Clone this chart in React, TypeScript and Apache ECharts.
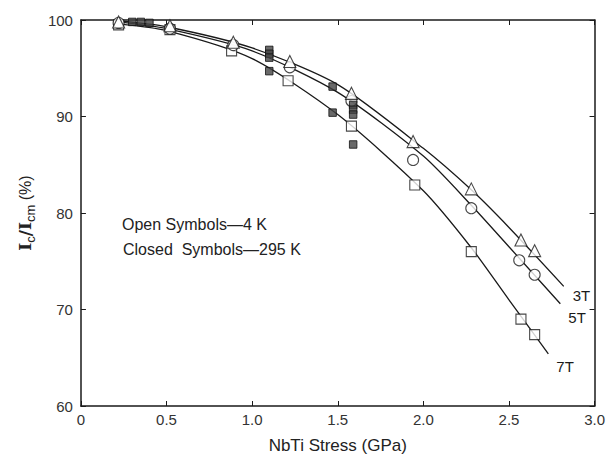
import React, { useEffect, useRef } from "react";
import * as echarts from "echarts";

// Open symbols (4 K)
const stress3T = [0.22, 0.52, 0.89, 1.22, 1.58, 1.94, 2.28, 2.57, 2.65];
const ic3T = [99.8, 99.4, 97.7, 95.7, 92.4, 87.4, 82.5, 77.2, 76.1];
const stress5T = [0.22, 0.52, 0.89, 1.22, 1.58, 1.94, 2.28, 2.56, 2.65];
const ic5T = [99.7, 99.1, 97.4, 95.1, 91.6, 85.5, 80.5, 75.1, 73.6];
const stress7T = [0.22, 0.52, 0.88, 1.21, 1.58, 1.95, 2.28, 2.57, 2.65];
const ic7T = [99.5, 99.0, 96.8, 93.7, 89.0, 82.9, 76.0, 69.0, 67.4];

// Closed symbols (295 K)
const closedStress = [0.3, 0.35, 0.4, 1.1, 1.1, 1.1, 1.1, 1.47, 1.47, 1.59, 1.59, 1.59, 1.59];
const closedIc = [99.8, 99.8, 99.7, 96.9, 96.5, 96.1, 94.7, 93.1, 90.4, 91.2, 90.7, 90.2, 87.1];

// Fitted curves
const fitStress3T = [0.22, 0.5, 1.0, 1.5, 2.0, 2.28, 2.5, 2.82];
const fitIc3T = [99.9, 99.3, 97.1, 93.3, 86.7, 82.4, 78.5, 72.4];
const fitStress5T = [0.22, 0.5, 1.0, 1.5, 2.0, 2.28, 2.5, 2.8];
const fitIc5T = [99.8, 99.1, 96.8, 92.5, 85.9, 80.8, 76.5, 70.6];
const fitStress7T = [0.22, 0.5, 1.0, 1.5, 2.0, 2.28, 2.5, 2.73];
const fitIc7T = [99.6, 98.9, 96.0, 90.2, 82.3, 76.4, 71.0, 65.4];

const curveNames = ["3T", "5T", "7T"];
const xTickLabels = ["0", "0.5", "1.0", "1.5", "2.0", "2.5", "3.0"];
const yTickLabels = ["60", "70", "80", "90", "100"];
const noteOpen = "Open Symbols\u20144 K";
const noteClosed = "Closed  Symbols\u2014295 K";

const zip = (xs: number[], ys: number[]) => xs.map((x, i) => [x, ys[i]]);

export default function App() {
  const ref = useRef<HTMLDivElement>(null);
  useEffect(() => {
    if (!ref.current) return;
    const chart = echarts.init(ref.current, undefined, { renderer: "svg" });
    const font = "Liberation Sans, Arial, sans-serif";
    const ink = "#1a1a1a";
    const axisCommon = {
      axisLine: { show: true, onZero: false, lineStyle: { color: ink, width: 1.5 } },
      axisTick: { show: true, inside: true, length: 5, lineStyle: { color: ink, width: 1 } },
      splitLine: { show: false },
    };
    const lineSeries = (name: string, xs: number[], ys: number[], offset: number[]) => ({
      type: "line",
      name,
      data: zip(xs, ys),
      smooth: 0.25,
      showSymbol: false,
      symbol: "none",
      lineStyle: { color: ink, width: 1.3 },
      z: 2,
      endLabel: {
        show: true,
        formatter: name,
        color: ink,
        fontFamily: font,
        fontSize: 15,
        offset,
      },
    });
    const openSeries = (xs: number[], ys: number[], symbol: string, size: number) => ({
      type: "scatter",
      data: zip(xs, ys),
      symbol,
      symbolSize: size,
      itemStyle: { color: "#fff", borderColor: ink, borderWidth: 1.1 },
      z: 3,
    });
    chart.setOption({
      animation: false,
      backgroundColor: "#fff",
      grid: { left: 64, right: 5, top: 12, bottom: 45 },
      xAxis: [
        {
          type: "value",
          min: 0,
          max: 3,
          interval: 0.5,
          position: "bottom",
          ...axisCommon,
          axisLabel: {
            color: "#333",
            fontFamily: font,
            fontSize: 15,
            margin: 6,
            formatter: (v: number) => xTickLabels[Math.round(v / 0.5)] ?? "",
          },
          name: "NbTi Stress (GPa)",
          nameLocation: "middle",
          nameGap: 31,
          nameTextStyle: { color: "#222", fontFamily: font, fontSize: 17 },
        },
        {
          type: "value",
          min: 0,
          max: 3,
          interval: 0.5,
          position: "top",
          ...axisCommon,
          axisLabel: { show: false },
        },
      ],
      yAxis: [
        {
          type: "value",
          min: 60,
          max: 100,
          interval: 10,
          position: "left",
          ...axisCommon,
          axisLabel: {
            color: "#333",
            fontFamily: font,
            fontSize: 15,
            margin: 8,
            formatter: (v: number) => yTickLabels[Math.round((v - 60) / 10)] ?? "",
          },
          name: "{b|I}{s|c}{b|/I}{s|cm}{n| (%)}",
          nameLocation: "middle",
          nameRotate: 90,
          nameGap: 46,
          nameTextStyle: {
            rich: {
              b: { fontFamily: "DejaVu Serif, serif", fontWeight: "bold", fontSize: 17, color: "#222", verticalAlign: "bottom" },
              s: { fontFamily: font, fontSize: 13, color: "#222", verticalAlign: "bottom", padding: [0, 0, -4, 0] },
              n: { fontFamily: font, fontSize: 16, color: "#222", verticalAlign: "bottom" },
            },
          },
        },
        {
          type: "value",
          min: 60,
          max: 100,
          interval: 10,
          position: "right",
          ...axisCommon,
          axisLabel: { show: false },
        },
      ],
      series: [
        lineSeries(curveNames[0], fitStress3T, fitIc3T, [1, 9]),
        lineSeries(curveNames[1], fitStress5T, fitIc5T, [0, 14]),
        lineSeries(curveNames[2], fitStress7T, fitIc7T, [0, 13]),
        {
          type: "scatter",
          data: zip(closedStress, closedIc),
          symbol: "rect",
          symbolSize: 7.5,
          itemStyle: { color: "#444", borderColor: "#111", borderWidth: 1 },
          z: 4,
        },
        openSeries(stress7T, ic7T, "rect", 10),
        openSeries(stress5T, ic5T, "circle", 11),
        openSeries(stress3T, ic3T, "triangle", 12),
      ],
      graphic: [
        {
          type: "text",
          left: 114,
          top: 208,
          style: { text: noteOpen, fontFamily: font, fontSize: 16, fill: "#222" },
        },
        {
          type: "text",
          left: 115,
          top: 233,
          style: { text: noteClosed, fontFamily: font, fontSize: 16, fill: "#222" },
        },
      ],
    });
    return () => chart.dispose();
  }, []);
  return <div ref={ref} style={{ width: 600, height: 451 }} />;
}
